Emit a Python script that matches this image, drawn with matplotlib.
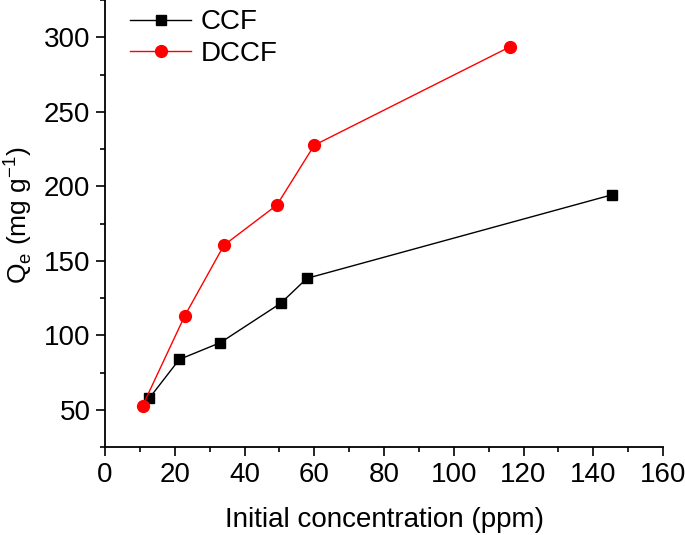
import matplotlib.pyplot as plt
from matplotlib.ticker import MultipleLocator

plt.rcParams['font.family'] = ['Liberation Sans', 'DejaVu Sans']
plt.rcParams['mathtext.fontset'] = 'custom'
plt.rcParams['mathtext.rm'] = 'Liberation Sans'

# Data
ccf_x = [12.7, 21.3, 33.1, 50.4, 57.9, 145.3]
ccf_y = [57.9, 83.9, 95.2, 121.6, 138.3, 194.3]
dccf_x = [10.8, 22.85, 34.1, 49.3, 60.0, 116.2]
dccf_y = [52.9, 113.1, 160.5, 187.5, 227.6, 293.7]

fig = plt.figure(figsize=(6.85, 5.35), dpi=100)
ax = fig.add_axes([0.1533, 0.164, 0.8146, 0.836])

ax.plot(ccf_x, ccf_y, color="black", lw=1.0, marker="s", ms=7.5, label="CCF")
ax.plot(dccf_x, dccf_y, color="red", lw=1.0, marker="o", ms=8.5, label="DCCF")

ax.set_xlim(0, 160)
ax.set_ylim(25, 325)
ax.xaxis.set_major_locator(MultipleLocator(20))
ax.xaxis.set_minor_locator(MultipleLocator(10))
ax.yaxis.set_minor_locator(MultipleLocator(25))
ax.set_yticks([50, 100, 150, 200, 250, 300])

for s in ["top", "right"]:
    ax.spines[s].set_visible(False)
for s in ["left", "bottom"]:
    ax.spines[s].set_linewidth(1.3)
ax.tick_params(which="major", direction="out", length=6.5, width=1.2, labelsize=20, pad=4)
ax.tick_params(which="minor", direction="out", length=3.5, width=1.2)

ax.set_xlabel("Initial concentration (ppm)", fontsize=20, labelpad=14)
ax.set_ylabel("Q$_\\mathregular{e}$ (mg g$^\\mathregular{-1}$)", fontsize=19)
ax.yaxis.set_label_coords(-0.128, 0.52)

ax.legend(loc="upper left", bbox_to_anchor=(0.0, 1.035), frameon=False, fontsize=20,
          handlelength=2.2, handletextpad=0.35, labelspacing=0.2)

fig.savefig("out.png", dpi=100)
